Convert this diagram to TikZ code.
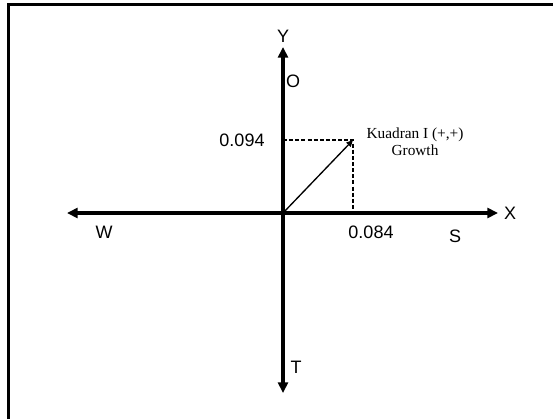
\documentclass[tikz,border=0pt]{standalone}
\usepackage{fontspec}
\setmainfont{Liberation Serif}
\setsansfont{Liberation Sans}
\usetikzlibrary{arrows.meta}
\tikzset{
    axis/.style={line width=2.3pt, -{Triangle[length=8pt,width=7.5pt]}},
    axislabel/.style={font=\sffamily\fontsize{13.5}{15}\selectfont, inner sep=0pt},
    guide/.style={line width=0.8pt, dash pattern=on 3pt off 1.6pt},
}
\begin{document}
\begin{tikzpicture}[x=0.75pt, y=-0.75pt]
        \useasboundingbox (0,0) rectangle (553,419);
        % frame
        \draw[line width=2.4pt] (8.5,419) -- (8.5,4.5) -- (553,4.5);
        % axes
        \coordinate (o) at (283,213);
        \coordinate (ytip) at (283,47);
        \coordinate (ttip) at (283,393);
        \coordinate (xtip) at (498,213);
        \coordinate (wtip) at (67,213);
        \draw[axis] (o) -- (ytip);
        \draw[axis] (o) -- (ttip);
        \draw[axis] (o) -- (xtip);
        \draw[axis] (o) -- (wtip);
        \node[axislabel] (ylab) at (283,36) {Y};
        \node[axislabel] (olab) at (293,81) {O};
        \node[axislabel] (tlab) at (296,367) {T};
        \node[axislabel] (xlab) at (510,213) {X};
        \node[axislabel] (wlab) at (104,232) {W};
        \node[axislabel] (slab) at (455,236) {S};
        % point
        \coordinate (p) at (353,140);
        \coordinate (px) at (353,213);
        \coordinate (py) at (283,140);
        \draw[guide] (py) -- (p) -- (px);
        \draw[line width=1pt, -{Triangle[length=5pt,width=4.5pt]}] (o) -- (p);
        \node[axislabel] (xval) at (371,232) {0.084};
        \node[axislabel] (yval) at (242,140) {0.094};
        \node[align=center, font=\fontsize{11.5}{12.5}\selectfont, inner sep=0pt] (kuadran) at (415,142) {Kuadran I (+,+)\\Growth};
    \end{tikzpicture}
\end{document}
